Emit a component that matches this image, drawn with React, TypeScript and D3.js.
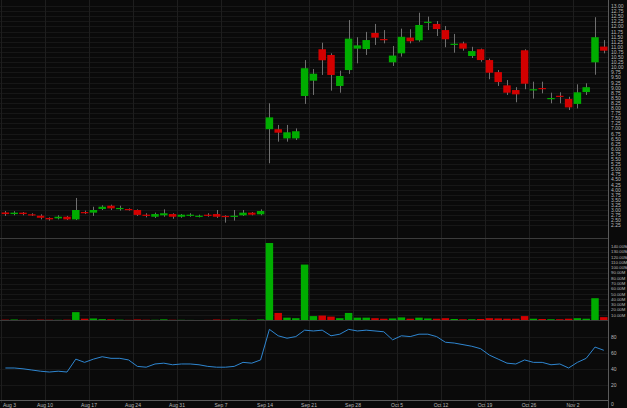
import React from "react";
import * as d3 from "d3";

const TICK_LABELS = ["Aug 3", "Aug 10", "Aug 17", "Aug 24", "Aug 31", "Sep 7", "Sep 14", "Sep 21", "Sep 28", "Oct 5", "Oct 12", "Oct 19", "Oct 26", "Nov 2"];

const OPEN = [2.88, 2.80, 2.87, 2.79, 2.72, 2.61, 2.59, 2.67, 2.54, 2.90, 2.87, 3.05, 3.21, 3.05, 3.05, 3.00, 2.77, 2.67, 2.74, 2.80, 2.67, 2.72, 2.67, 2.77, 2.80, 2.71, 2.67, 2.74, 2.87, 2.79,
  6.96, 6.96, 6.51, 6.51, 8.59, 9.34, 10.88, 10.60, 9.08, 9.86, 10.91, 10.89, 11.68, 11.38, 10.24, 10.68, 11.45, 11.32, 12.17, 12.12, 11.82, 11.10, 11.17, 10.55, 10.88, 10.35, 9.76, 9.11, 8.88, 10.83, 8.87, 8.98, 8.44, 8.60, 8.44, 8.20, 8.78, 10.24, 11.01];
const HIGH = [2.95, 2.94, 2.90, 2.84, 2.79, 2.64, 2.74, 2.71, 3.59, 2.97, 3.16, 3.23, 3.26, 3.21, 3.08, 3.03, 2.84, 2.87, 3.03, 2.84, 2.80, 2.84, 2.77, 2.84, 3.00, 2.74, 3.00, 3.00, 2.90, 3.03,
  8.23, 7.17, 7.17, 7.00, 10.35, 9.91, 11.20, 10.68, 9.83, 12.31, 11.47, 11.73, 12.12, 11.82, 11.04, 11.89, 11.86, 12.67, 12.48, 12.26, 12.02, 11.63, 11.25, 11.00, 10.91, 10.42, 9.86, 9.37, 9.02, 10.88, 9.29, 9.29, 8.75, 8.77, 8.55, 9.16, 9.21, 12.45, 11.33];
const LOW = [2.71, 2.74, 2.74, 2.71, 2.54, 2.48, 2.54, 2.51, 2.51, 2.80, 2.71, 3.00, 3.00, 2.97, 2.97, 2.71, 2.64, 2.61, 2.67, 2.57, 2.62, 2.67, 2.64, 2.67, 2.61, 2.38, 2.48, 2.71, 2.74, 2.74,
  5.29, 6.35, 6.35, 6.43, 8.20, 8.64, 9.62, 8.85, 8.75, 9.67, 10.19, 10.60, 11.09, 11.17, 10.06, 10.52, 11.17, 11.25, 11.82, 11.53, 10.98, 10.71, 10.81, 10.45, 10.27, 9.41, 9.08, 8.64, 8.28, 8.92, 8.46, 8.72, 8.23, 8.23, 7.90, 7.98, 8.64, 9.63, 10.68];
const CLOSE = [2.80, 2.87, 2.80, 2.74, 2.62, 2.54, 2.67, 2.54, 3.00, 2.84, 3.00, 3.16, 3.08, 3.10, 3.00, 2.76, 2.71, 2.80, 2.84, 2.67, 2.77, 2.77, 2.72, 2.71, 2.67, 2.67, 2.72, 2.87, 2.77, 2.95,
  7.54, 6.79, 6.81, 6.86, 9.95, 9.68, 10.34, 9.62, 9.57, 11.40, 11.07, 11.33, 11.45, 11.33, 10.57, 11.49, 11.27, 12.07, 12.23, 11.87, 11.37, 11.15, 10.91, 10.79, 10.35, 9.73, 9.27, 8.75, 8.67, 9.19, 8.92, 8.93, 8.49, 8.55, 8.03, 8.77, 9.02, 11.47, 10.81];
const VOLUME_M = [1.2, 1.5, 1.0, 0.8, 1.3, 1.1, 0.9, 1.2, 15.5, 3.0, 3.5, 2.2, 1.8, 1.2, 0.9, 1.6, 1.1, 1.0, 1.8, 1.0, 0.9, 0.7, 0.6, 0.8, 1.5, 1.0, 1.6, 1.3, 0.8, 1.6,
  147, 14, 5, 4, 106, 8, 9, 7, 4, 14, 5, 5, 4, 3, 3.5, 5.5, 3, 5, 3.5, 3, 4, 2.5, 2, 2, 2.5, 4, 3.5, 3, 3, 8, 3, 2.5, 2, 2, 3, 4, 3, 42, 6];
const RSI = [41, 41, 40, 38.5, 37, 36, 37, 36, 52, 48, 52, 55, 53, 53, 51, 43, 42, 46, 47, 45, 46, 46, 45, 43, 42, 42, 43, 48, 47, 51,
  89, 81, 78, 80, 88, 87, 88, 81, 83, 89, 87, 88, 87, 86, 76, 81, 80, 83, 83, 80, 73, 72, 70, 68, 65, 57, 52, 47, 46, 51, 48, 48, 45, 46, 41, 48, 53, 67, 63];

const PRICE_TICKS = d3.range(225, 1301, 25).map((v) => v / 100);
const VOLUME_TICKS = d3.range(10, 141, 10);
const RSI_TICKS = [20, 40, 60, 80];

const W = 627;
const H = 408;
const RIGHT = 608.5;
const BG = "#0a0a0a";
const UP = "#00ad00";
const DOWN = "#d30000";
const LABEL = "#b8b8b8";
const FONT = "'Liberation Sans', Arial, sans-serif";

export default function App() {
  const idx = d3.range(OPEN.length);
  const x = d3.scaleBand<number>().domain(idx).range([1, 608.2]).paddingInner(0.15).paddingOuter(0.075);
  const step = x.step();
  const bw = x.bandwidth();
  const cx = (i: number) => (x(i) as number) + bw / 2;
  const tickX = (i: number) => (x(i) as number) - step * 0.075;

  const yP = d3.scaleLinear().domain([2.25, 13]).range([225.3, 6]);
  const yV = d3.scaleLinear().domain([0, 140]).range([320.3, 246.7]);
  const yR = d3.scaleLinear().domain([0, 100]).range([401, 320.5]);

  const rsiLine = d3.line<number>().x((_, i) => cx(i)).y((d) => yR(d)).curve(d3.curveLinear);

  const tickIdx = TICK_LABELS.map((_, k) => k * 5);

  return (
    <div style={{ position: "fixed", left: 0, top: 0, width: W, height: H, background: BG }}>
      <svg width={W} height={H} style={{ display: "block" }} fontFamily={FONT}>
        <defs>
          <clipPath id="cp"><rect x={0} y={0} width={RIGHT} height={238} /></clipPath>
          <clipPath id="cv"><rect x={0} y={239} width={RIGHT} height={81} /></clipPath>
          <clipPath id="cr"><rect x={0} y={321} width={RIGHT} height={79} /></clipPath>
        </defs>
        <rect x={0} y={0} width={W} height={H} fill={BG} />

        {/* horizontal grids */}
        <g stroke="#171717" strokeWidth={1}>
          {PRICE_TICKS.map((t) => (
            <line key={"pg" + t} x1={0} x2={RIGHT} y1={Math.round(yP(t)) + 0.5} y2={Math.round(yP(t)) + 0.5} />
          ))}
          {VOLUME_TICKS.map((t) => (
            <line key={"vg" + t} x1={0} x2={RIGHT} y1={Math.round(yV(t)) + 0.5} y2={Math.round(yV(t)) + 0.5} />
          ))}
          {RSI_TICKS.map((t) => (
            <line key={"rg" + t} x1={0} x2={RIGHT} y1={Math.round(yR(t)) + 0.5} y2={Math.round(yR(t)) + 0.5} />
          ))}
        </g>
        {/* vertical grids */}
        <g stroke="#1e1e1e" strokeWidth={1}>
          {tickIdx.map((i) => (
            <line key={"xg" + i} x1={Math.round(tickX(i)) + 0.5} x2={Math.round(tickX(i)) + 0.5} y1={0} y2={403} />
          ))}
        </g>

        {/* candles */}
        <g clipPath="url(#cp)">
          {idx.map((i) => {
            const up = CLOSE[i] >= OPEN[i];
            const top = yP(Math.max(OPEN[i], CLOSE[i]));
            const bot = yP(Math.min(OPEN[i], CLOSE[i]));
            return (
              <g key={"c" + i}>
                <line x1={Math.round(cx(i)) + 0.5} x2={Math.round(cx(i)) + 0.5} y1={yP(HIGH[i])} y2={yP(LOW[i])} stroke="#707070" strokeWidth={1} />
                <rect x={x(i)} y={top} width={bw} height={Math.max(1.2, bot - top)} fill={up ? UP : DOWN} />
              </g>
            );
          })}
        </g>

        {/* volume */}
        <g clipPath="url(#cv)">
          {idx.map((i) => {
            const up = CLOSE[i] >= OPEN[i];
            return (
              <rect key={"v" + i} x={x(i)} y={yV(VOLUME_M[i])} width={bw} height={yV(0) - yV(VOLUME_M[i])} fill={up ? UP : DOWN} />
            );
          })}
        </g>

        {/* RSI */}
        <g clipPath="url(#cr)">
          <path d={rsiLine(RSI) || ""} fill="none" stroke="#2f86d0" strokeWidth={1} />
        </g>

        {/* separators and axes */}
        <g stroke="#3c3c3c" strokeWidth={1}>
          <line x1={0} x2={RIGHT} y1={238.5} y2={238.5} />
          <line x1={0} x2={RIGHT} y1={320.5} y2={320.5} />
        </g>
        <line x1={0} x2={RIGHT} y1={400.5} y2={400.5} stroke="#5a5a5a" strokeWidth={1} />
        <line x1={RIGHT} x2={RIGHT} y1={0} y2={H} stroke="#5a5a5a" strokeWidth={1} />

        {/* labels */}
        <g fontSize={5} fill={LABEL}>
          {PRICE_TICKS.map((t) => (
            <text key={"pl" + t} x={611} y={yP(t)} dominantBaseline="central">{t.toFixed(2)}</text>
          ))}
          {VOLUME_TICKS.map((t) => (
            <text key={"vl" + t} x={611} y={yV(t)} fontSize={4.3} dominantBaseline="central">{t.toFixed(2) + "M"}</text>
          ))}
          {RSI_TICKS.map((t) => (
            <text key={"rl" + t} x={611} y={yR(t)} dominantBaseline="central">{String(t)}</text>
          ))}
          <text x={611} y={yR(0) + 3} dominantBaseline="central">0</text>
          {tickIdx.map((i, k) => (
            <text key={"xl" + i} x={Math.max(tickX(i), 9.5)} y={404.5} textAnchor="middle" dominantBaseline="central">{TICK_LABELS[k]}</text>
          ))}
        </g>
      </svg>
    </div>
  );
}
